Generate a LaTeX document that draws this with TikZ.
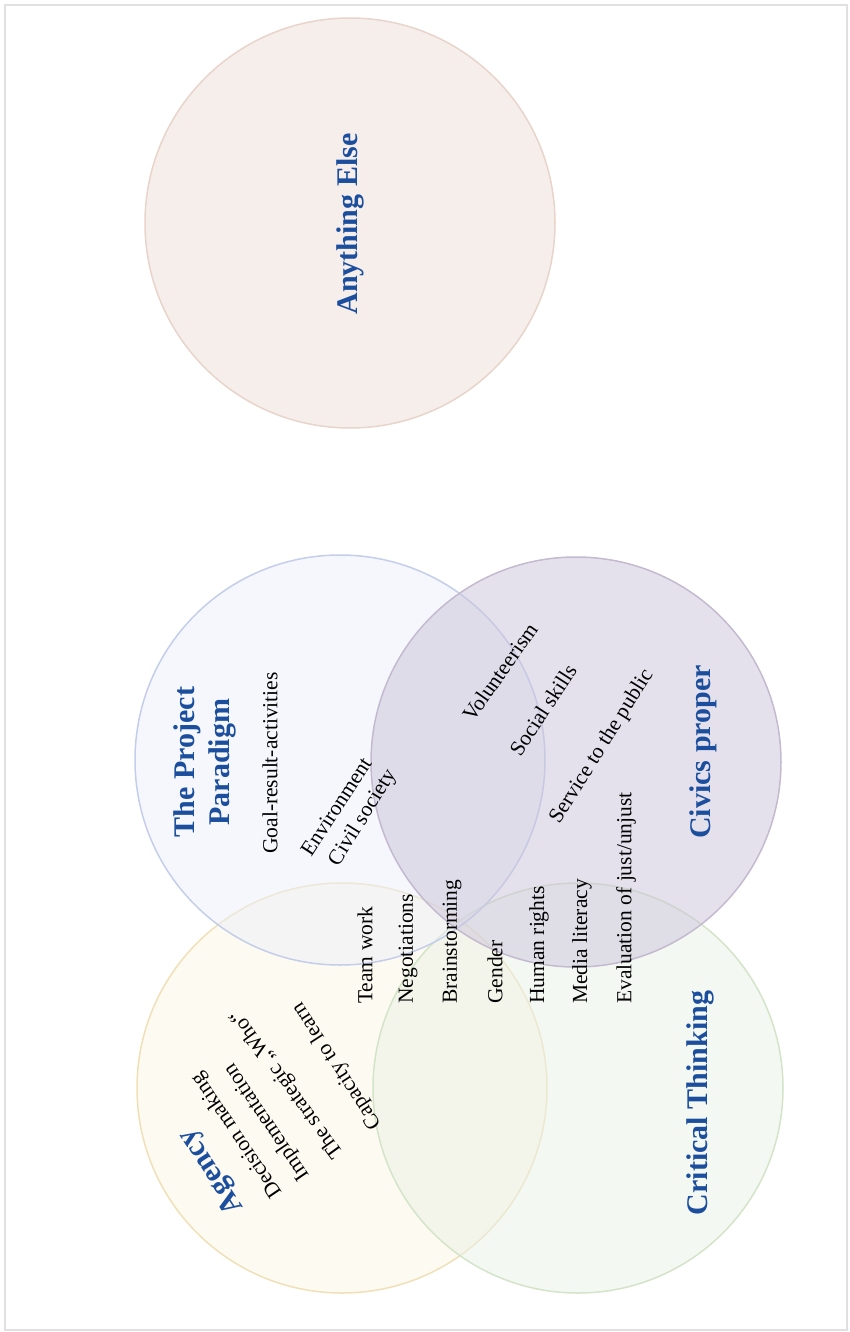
\documentclass[tikz,border=0pt]{standalone}
\usepackage{fontspec}
\setmainfont{Liberation Serif}
\definecolor{ttlblue}{RGB}{28,78,158}
\definecolor{aefill}{RGB}{237,221,215}
\definecolor{aeline}{RGB}{232,212,202}
\definecolor{ppfill}{RGB}{235,239,249}
\definecolor{ppline}{RGB}{196,206,234}
\definecolor{cpfill}{RGB}{203,195,217}
\definecolor{cpline}{RGB}{196,186,208}
\definecolor{agfill}{RGB}{251,245,227}
\definecolor{agline}{RGB}{240,224,184}
\definecolor{ctfill}{RGB}{233,241,231}
\definecolor{ctline}{RGB}{212,228,200}
\begin{document}
\begin{tikzpicture}[x=1pt,y=-1pt,
  venn/.style={circle, minimum size=410pt, inner sep=0pt, line width=1.5pt, fill opacity=0.5},
  ttl/.style={font=\fontsize{30}{35}\selectfont\bfseries, text=ttlblue, align=center, inner sep=0pt},
  itm/.style={font=\fontsize{21.5}{25}\selectfont, inner sep=0pt},
]
\useasboundingbox (0,0) rectangle (849,1332);
\node[draw=black!12, line width=2pt, minimum width=842pt, minimum height=1325pt, inner sep=0pt] (frame) at (426,667.5) {};
% circles
\node[venn, draw=aeline, fill=aefill] (ae) at (350,223) {};
\node[venn, draw=agline, fill=agfill] (ag) at (342,1088) {};
\node[venn, draw=ctline, fill=ctfill] (ct) at (578,1088) {};
\node[venn, draw=ppline, fill=ppfill] (pp) at (340,760) {};
\node[venn, draw=cpline, fill=cpfill] (cp) at (576,762) {};
% titles
\node[ttl, rotate=90] (tae) at (350,224) {Anything Else};
\node[ttl, rotate=90] (tpp) at (205,762) {The Project\\Paradigm};
\node[ttl, rotate=90] (tcp) at (703,752) {Civics proper};
\node[ttl, rotate=90] (tct) at (700,1103) {Critical Thinking};
\node[ttl, rotate=123] (tag) at (212,1171) {Agency};
% project paradigm items
\node[itm, rotate=90] (goal) at (270,763) {Goal-result-activities};
\node[itm, rotate=57] (env) at (336,807) {Environment};
\node[itm, rotate=58] (civ) at (363,818) {Civil society};
% civics items
\node[itm, rotate=55] (vol) at (500,672) {Volunteerism};
\node[itm, rotate=57] (soc) at (543,710) {Social skills};
\node[itm, rotate=58] (ser) at (602,747) {Service to the public};
% vertical list
\node[itm, rotate=90, anchor=west] (team) at (365,1004) {Team work};
\node[itm, rotate=90, anchor=west] (neg) at (408,1004) {Negotiations};
\node[itm, rotate=90, anchor=west] (brain) at (452,1004) {Brainstorming};
\node[itm, rotate=90, anchor=west] (gen) at (495,1004) {Gender};
\node[itm, rotate=90, anchor=west] (hum) at (539,1004) {Human rights};
\node[itm, rotate=90, anchor=west] (med) at (582,1004) {Media literacy};
\node[itm, rotate=90, anchor=west] (eva) at (626,1004) {Evaluation of just/unjust};
% agency items
\node[itm, rotate=124] (dec) at (237,1135) {Decision making};
\node[itm, rotate=124] (imp) at (267,1122) {Implementation};
\node[itm, rotate=126] (who) at (287,1084) {The strategic „Who“};
\node[itm, rotate=123] (cap) at (337,1066) {Capacity to learn};
\end{tikzpicture}
\end{document}
